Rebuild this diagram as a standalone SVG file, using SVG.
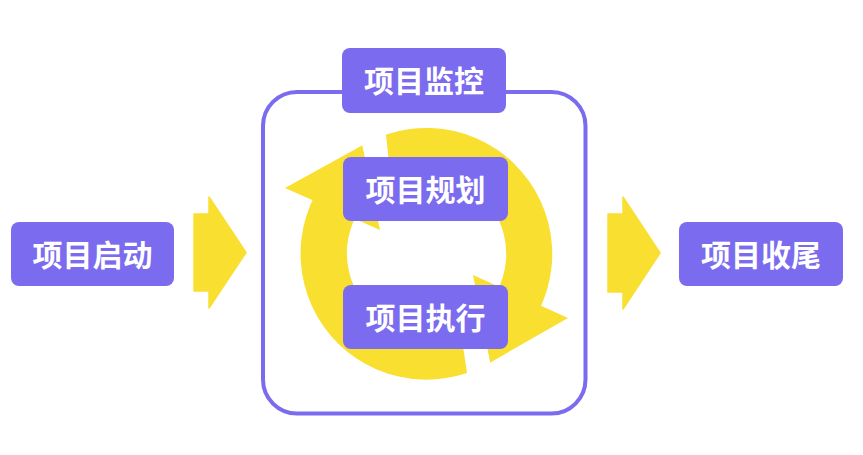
<svg xmlns="http://www.w3.org/2000/svg" width="863" height="455" viewBox="0 0 863 455">
<style>
.box{fill:#7b6bef}
.lbl{fill:#ffffff;font-family:"Noto Sans CJK SC","Noto Sans",sans-serif;font-weight:700;font-size:30px;text-anchor:middle}
.yel{fill:#f9df30}
</style>
<rect width="863" height="455" fill="#ffffff"/>
<g id="frame">
<rect x="263" y="92" width="322.5" height="321.5" rx="34" fill="none" stroke="#7b6bef" stroke-width="4"/>
</g>
<g id="connectors">
<polygon class="yel" points="194,214 209,214 209,197 246,252.5 209,308 209,291 194,291" stroke="#f9df30" stroke-width="1.5" stroke-linejoin="round"/>
<polygon class="yel" points="608,214 623,214 623,197 660,253 623,309 623,292 608,292" stroke="#f9df30" stroke-width="1.5" stroke-linejoin="round"/>
<g id="cycle">
<path class="yel" d="M386 134.5 A126 126 0 0 1 490.3 362.4 L480.5 312.6 A80 80 0 0 0 391 182 Z"/>
<polygon class="yel" points="473,275 568,318 490.3,362.4"/>
<path class="yel" d="M362.1 145.4 A126 126 0 0 0 467 373 L460 326 A80 80 0 0 1 372.5 194.5 Z"/>
<polygon class="yel" points="285,188 362.1,145.4 380,230"/>
</g>
</g>
<g id="start">
<rect class="box" x="11" y="222" width="163" height="64" rx="8"/>
<text class="lbl" x="92.5" y="265.5">项目启动</text>
</g>
<g id="monitor">
<rect class="box" x="342" y="48" width="164" height="65" rx="8"/>
<text class="lbl" x="424" y="92">项目监控</text>
</g>
<g id="plan">
<rect class="box" x="343" y="157" width="165" height="64" rx="8"/>
<text class="lbl" x="425.5" y="200.5">项目规划</text>
</g>
<g id="execute">
<rect class="box" x="343" y="285" width="165" height="64" rx="8"/>
<text class="lbl" x="425.5" y="328.5">项目执行</text>
</g>
<g id="close">
<rect class="box" x="679" y="222" width="164" height="64" rx="8"/>
<text class="lbl" x="761" y="265.5">项目收尾</text>
</g>
</svg>
